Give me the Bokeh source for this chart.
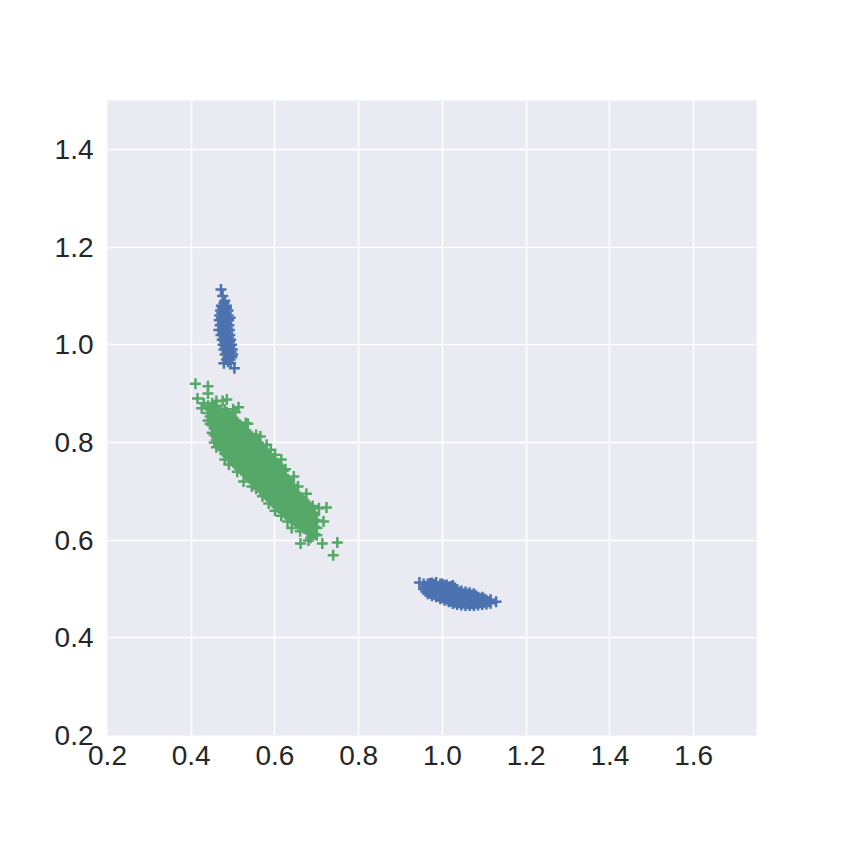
from bokeh.plotting import figure
from bokeh.models import FixedTicker, Range1d, NumeralTickFormatter
from bokeh.embed import file_html
from bokeh.resources import INLINE

# Blue cluster A (upper, vertical): y level -> x values
blue_a_rows = {
    1.113: [0.471], 1.100: [0.475],
    1.09: [0.480], 1.085: [0.478],
    1.08: [0.472, 0.484], 1.075: [0.475, 0.484],
    1.07: [0.470, 0.479, 0.488], 1.065: [0.473, 0.483],
    1.06: [0.468, 0.478, 0.488], 1.055: [0.472, 0.483, 0.493],
    1.05: [0.467, 0.478, 0.489], 1.045: [0.474, 0.485],
    1.04: [0.469, 0.480, 0.490], 1.035: [0.475, 0.486],
    1.03: [0.466, 0.480, 0.491], 1.025: [0.476, 0.487],
    1.02: [0.471, 0.482, 0.492], 1.015: [0.478, 0.489],
    1.01: [0.474, 0.484, 0.494], 1.005: [0.480, 0.491],
    1.00: [0.476, 0.486, 0.496], 0.995: [0.482, 0.492],
    0.99: [0.478, 0.488, 0.498], 0.985: [0.485, 0.495],
    0.98: [0.481, 0.490, 0.499], 0.975: [0.488, 0.497],
    0.97: [0.484, 0.493], 0.965: [0.488],
    0.962: [0.478, 0.494],
    0.952: [0.503],
}

# Blue cluster B (lower right): x level -> y values
blue_b_cols = {
    0.945: [0.513],
    0.955: [0.500, 0.510], 0.960: [0.495, 0.505],
    0.965: [0.490, 0.500, 0.510], 0.970: [0.491, 0.501, 0.511],
    0.975: [0.486, 0.496, 0.506, 0.512], 0.980: [0.489, 0.499, 0.509],
    0.985: [0.484, 0.494, 0.504, 0.513], 0.990: [0.485, 0.495, 0.505],
    0.995: [0.480, 0.490, 0.500, 0.510], 1.000: [0.482, 0.492, 0.502, 0.510],
    1.005: [0.477, 0.487, 0.497, 0.507], 1.010: [0.479, 0.489, 0.499, 0.508],
    1.015: [0.474, 0.484, 0.494, 0.504], 1.020: [0.475, 0.485, 0.495, 0.505],
    1.025: [0.470, 0.480, 0.490, 0.500, 0.507], 1.030: [0.473, 0.483, 0.493, 0.502],
    1.035: [0.468, 0.478, 0.488, 0.498], 1.040: [0.472, 0.482, 0.492],
    1.045: [0.467, 0.476, 0.486, 0.496], 1.050: [0.471, 0.480, 0.490],
    1.055: [0.466, 0.475, 0.485, 0.494], 1.060: [0.470, 0.480, 0.489],
    1.065: [0.466, 0.474, 0.484, 0.492], 1.070: [0.470, 0.479, 0.487],
    1.075: [0.466, 0.474, 0.483, 0.490], 1.080: [0.471, 0.479, 0.486],
    1.085: [0.467, 0.475, 0.483], 1.090: [0.472, 0.480],
    1.095: [0.468, 0.476, 0.483], 1.100: [0.473, 0.480],
    1.105: [0.469, 0.477], 1.110: [0.474],
    1.115: [0.471, 0.478],
    1.128: [0.474],
}

# Green cluster (diagonal): x level -> y values
green_cols = {
    0.410: [0.920], 0.415: [0.890], 0.425: [0.870], 0.430: [0.880],
    0.440: [0.845, 0.860, 0.875, 0.900, 0.915],
    0.445: [0.838, 0.853, 0.868],
    0.450: [0.820, 0.835, 0.850, 0.865, 0.880],
    0.455: [0.800, 0.815, 0.828, 0.843, 0.858, 0.872],
    0.460: [0.790, 0.805, 0.820, 0.835, 0.850, 0.865, 0.875, 0.885],
    0.465: [0.798, 0.813, 0.828, 0.843, 0.858],
    0.470: [0.790, 0.805, 0.820, 0.835, 0.850, 0.865],
    0.475: [0.785, 0.800, 0.815, 0.830, 0.845, 0.860, 0.885],
    0.480: [0.765, 0.777, 0.792, 0.807, 0.822, 0.837, 0.852, 0.867],
    0.485: [0.773, 0.788, 0.803, 0.818, 0.833, 0.848, 0.862, 0.888],
    0.490: [0.755, 0.768, 0.783, 0.798, 0.813, 0.828, 0.843, 0.858],
    0.495: [0.764, 0.779, 0.794, 0.809, 0.824, 0.839, 0.853],
    0.500: [0.760, 0.775, 0.790, 0.805, 0.820, 0.835, 0.850, 0.868],
    0.505: [0.755, 0.770, 0.785, 0.800, 0.815, 0.830, 0.845, 0.862],
    0.510: [0.740, 0.751, 0.766, 0.781, 0.796, 0.811, 0.826, 0.841],
    0.513: [0.872],
    0.515: [0.747, 0.762, 0.777, 0.792, 0.807, 0.822, 0.836],
    0.520: [0.743, 0.758, 0.773, 0.788, 0.803, 0.818, 0.833],
    0.525: [0.720, 0.739, 0.754, 0.769, 0.784, 0.799, 0.814, 0.828],
    0.530: [0.735, 0.750, 0.765, 0.780, 0.795, 0.810, 0.825, 0.840],
    0.535: [0.730, 0.745, 0.760, 0.775, 0.790, 0.805, 0.820, 0.838],
    0.540: [0.726, 0.741, 0.756, 0.771, 0.786, 0.801, 0.816],
    0.545: [0.710, 0.722, 0.737, 0.752, 0.767, 0.782, 0.797, 0.811],
    0.550: [0.718, 0.733, 0.748, 0.763, 0.778, 0.793, 0.808],
    0.555: [0.705, 0.713, 0.728, 0.743, 0.758, 0.773, 0.788, 0.802, 0.815],
    0.560: [0.709, 0.724, 0.739, 0.754, 0.769, 0.784, 0.799],
    0.565: [0.704, 0.719, 0.734, 0.749, 0.764, 0.779, 0.794, 0.812],
    0.570: [0.690, 0.700, 0.715, 0.730, 0.745, 0.760, 0.775, 0.790],
    0.575: [0.695, 0.710, 0.725, 0.740, 0.755, 0.770, 0.784],
    0.580: [0.691, 0.706, 0.721, 0.736, 0.751, 0.766, 0.781, 0.795],
    0.585: [0.675, 0.686, 0.701, 0.716, 0.731, 0.746, 0.761, 0.775],
    0.590: [0.682, 0.697, 0.712, 0.727, 0.742, 0.757, 0.772, 0.785],
    0.595: [0.677, 0.692, 0.707, 0.722, 0.737, 0.752, 0.766],
    0.600: [0.660, 0.672, 0.687, 0.702, 0.717, 0.732, 0.747, 0.762, 0.775],
    0.605: [0.668, 0.683, 0.698, 0.713, 0.728, 0.743, 0.756],
    0.610: [0.665, 0.680, 0.695, 0.710, 0.725, 0.740, 0.752],
    0.615: [0.650, 0.660, 0.675, 0.690, 0.705, 0.720, 0.735, 0.746, 0.765],
    0.620: [0.657, 0.672, 0.687, 0.702, 0.717, 0.732, 0.742],
    0.625: [0.653, 0.668, 0.683, 0.698, 0.713, 0.728, 0.745],
    0.630: [0.638, 0.650, 0.665, 0.680, 0.695, 0.710, 0.725],
    0.635: [0.646, 0.661, 0.676, 0.691, 0.706, 0.718],
    0.640: [0.625, 0.643, 0.658, 0.673, 0.688, 0.703, 0.713],
    0.645: [0.640, 0.655, 0.670, 0.685, 0.700, 0.730],
    0.650: [0.636, 0.651, 0.666, 0.681, 0.696],
    0.655: [0.633, 0.648, 0.663, 0.678, 0.692, 0.710],
    0.660: [0.618, 0.630, 0.645, 0.660, 0.675, 0.688],
    0.661: [0.593],
    0.665: [0.627, 0.642, 0.657, 0.672, 0.684],
    0.670: [0.624, 0.639, 0.654, 0.669, 0.680],
    0.675: [0.621, 0.636, 0.651, 0.666, 0.676, 0.695],
    0.680: [0.618, 0.633, 0.648, 0.663, 0.672, 0.599],
    0.685: [0.605, 0.616, 0.631, 0.645, 0.660],
    0.690: [0.614, 0.628, 0.642, 0.656, 0.670],
    0.695: [0.612, 0.627, 0.641, 0.652],
    0.700: [0.610, 0.625, 0.640],
    0.705: [0.665],
    0.713: [0.593],
    0.716: [0.638],
    0.723: [0.667],
    0.739: [0.569],
    0.749: [0.595],
}

blue_a_x = [x for y, xs in blue_a_rows.items() for x in xs]
blue_a_y = [y for y, xs in blue_a_rows.items() for x in xs]
blue_b_x = [x for x, ys in blue_b_cols.items() for y in ys]
blue_b_y = [y for x, ys in blue_b_cols.items() for y in ys]
green_x = [x for x, ys in green_cols.items() for y in ys]
green_y = [y for x, ys in green_cols.items() for y in ys]

x_ticks = [0.2, 0.4, 0.6, 0.8, 1.0, 1.2, 1.4, 1.6]
y_ticks = [0.2, 0.4, 0.6, 0.8, 1.0, 1.2, 1.4]

p = figure(width=825, height=825, output_backend="svg", toolbar_location=None,
           x_range=Range1d(0.2, 1.75), y_range=Range1d(0.2, 1.5),
           min_border_left=107, min_border_right=69, min_border_top=100,
           min_border_bottom=90)
p.background_fill_color = "#EAEAF2"
p.border_fill_color = "white"
p.outline_line_color = None

for ax in (p.xaxis, p.yaxis):
    ax.axis_line_color = None
    ax.major_tick_line_color = None
    ax.minor_tick_line_color = None
    ax.major_tick_out = 0
    ax.major_tick_in = 0
    ax.major_label_text_font = "Liberation Sans"
    ax.major_label_text_font_size = "28px"
    ax.major_label_text_color = "#262626"
    ax.formatter = NumeralTickFormatter(format="0.0")
p.yaxis.major_label_standoff = 14
p.xaxis.major_label_standoff = 10

p.xaxis.ticker = FixedTicker(ticks=x_ticks)
p.yaxis.ticker = FixedTicker(ticks=y_ticks)
p.xgrid.ticker = FixedTicker(ticks=x_ticks)
p.ygrid.ticker = FixedTicker(ticks=y_ticks)
p.grid.grid_line_color = "white"
p.grid.grid_line_width = 1.5

blue = "#4C72B0"
green = "#55A868"
p.scatter(blue_a_x, blue_a_y, marker="cross", size=11, line_width=2.5, line_color=blue)
p.scatter(blue_b_x, blue_b_y, marker="cross", size=11, line_width=2.5, line_color=blue)
p.scatter(green_x, green_y, marker="cross", size=11, line_width=2.5, line_color=green)

open("out.html", "w").write(file_html(p, INLINE))
